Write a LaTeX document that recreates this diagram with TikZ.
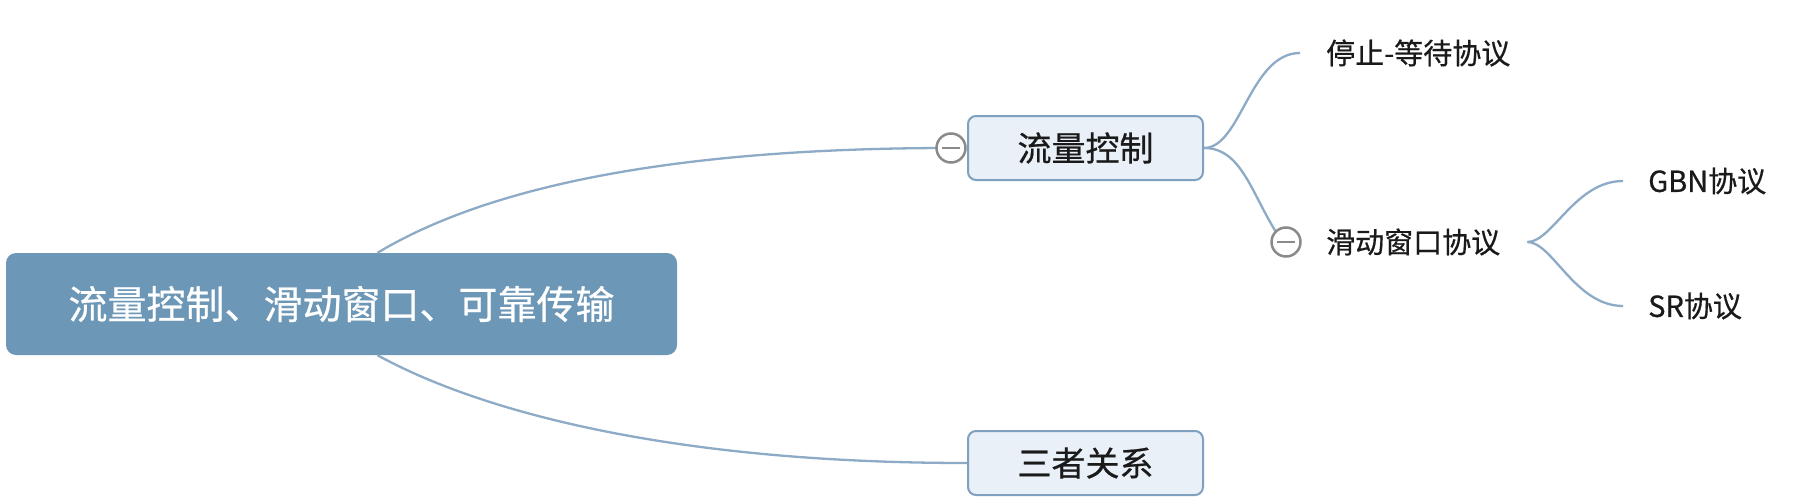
\documentclass[tikz,border=0pt]{standalone}
\usepackage{fontspec}
\setmainfont{Noto Sans CJK SC}[FakeBold=0.6]
\usepackage{tikz}
\definecolor{rootblue}{HTML}{6D97B6}
\definecolor{topicfill}{HTML}{EAF0F7}
\definecolor{topicline}{HTML}{7FA0BF}
\definecolor{branchline}{HTML}{8DAAC6}
\definecolor{foldgray}{HTML}{8A8A8A}
\definecolor{inkblack}{HTML}{1A1A1A}

\begin{document}
\begin{tikzpicture}[x=1pt,y=-1pt,
    rootbox/.style={fill=rootblue,draw=none,rounded corners=10pt,
        minimum width=671pt,minimum height=102pt,text=white,
        font=\fontsize{39}{42}\selectfont},
    topicbox/.style={fill=topicfill,draw=topicline,line width=2pt,
        rounded corners=8pt,minimum width=235pt,minimum height=64pt,
        text=inkblack,font=\fontsize{34}{36}\selectfont},
    leaftext/.style={inner sep=0pt,anchor=west,text=inkblack,
        font=\fontsize{29}{31}\selectfont},
    foldmark/.style={circle,draw=foldgray,fill=white,line width=2.5pt,
        minimum size=29pt,inner sep=0pt,
        path picture={\draw[foldgray,line width=2.5pt]
            ([xshift=-9pt]path picture bounding box.center) --
            ([xshift=9pt]path picture bounding box.center);}},
    branch/.style={draw=branchline,line width=2.3pt}]

    \useasboundingbox[fill=white] (0,0) rectangle (1793,503);

    % nodes
    \node[rootbox] (root) at (341.5,304) {流量控制、滑动窗口、可靠传输};
    \node[topicbox] (flow) at (1085.5,148) {流量控制};
    \node[topicbox] (rel) at (1085.5,463) {三者关系};
    \node[leaftext] (stopwait) at (1326,53) {停止-等待协议};
    \node[leaftext] (slide) at (1326,242) {滑动窗口协议};
    \node[leaftext] (gbn) at (1648,181) {GBN协议};
    \node[leaftext] (sr) at (1648,306) {SR协议};

    % connectors
    \draw[branch] ([xshift=36pt]root.north) .. controls +(100,-60) and +(-300,0) .. (951,148);
    \draw[branch] ([xshift=36pt]root.south) .. controls +(100,55) and +(-300,0) .. (rel.west);
    \draw[branch] (flow.east) .. controls +(37,0) and +(-50,0) .. ([xshift=-26pt]stopwait.west);
    \draw[branch] (flow.east) .. controls +(37,0) and +(-25,-40) .. (1276,232);
    \draw[branch] ([xshift=27pt]slide.east) .. controls +(25,0) and +(-48,0) .. ([xshift=-25pt]gbn.west);
    \draw[branch] ([xshift=27pt]slide.east) .. controls +(25,0) and +(-48,0) .. ([xshift=-25pt]sr.west);

    % fold marks
    \node[foldmark] (foldflow) at (951,148) {};
    \node[foldmark] (foldslide) at (1286,242) {};

\end{tikzpicture}
\end{document}
